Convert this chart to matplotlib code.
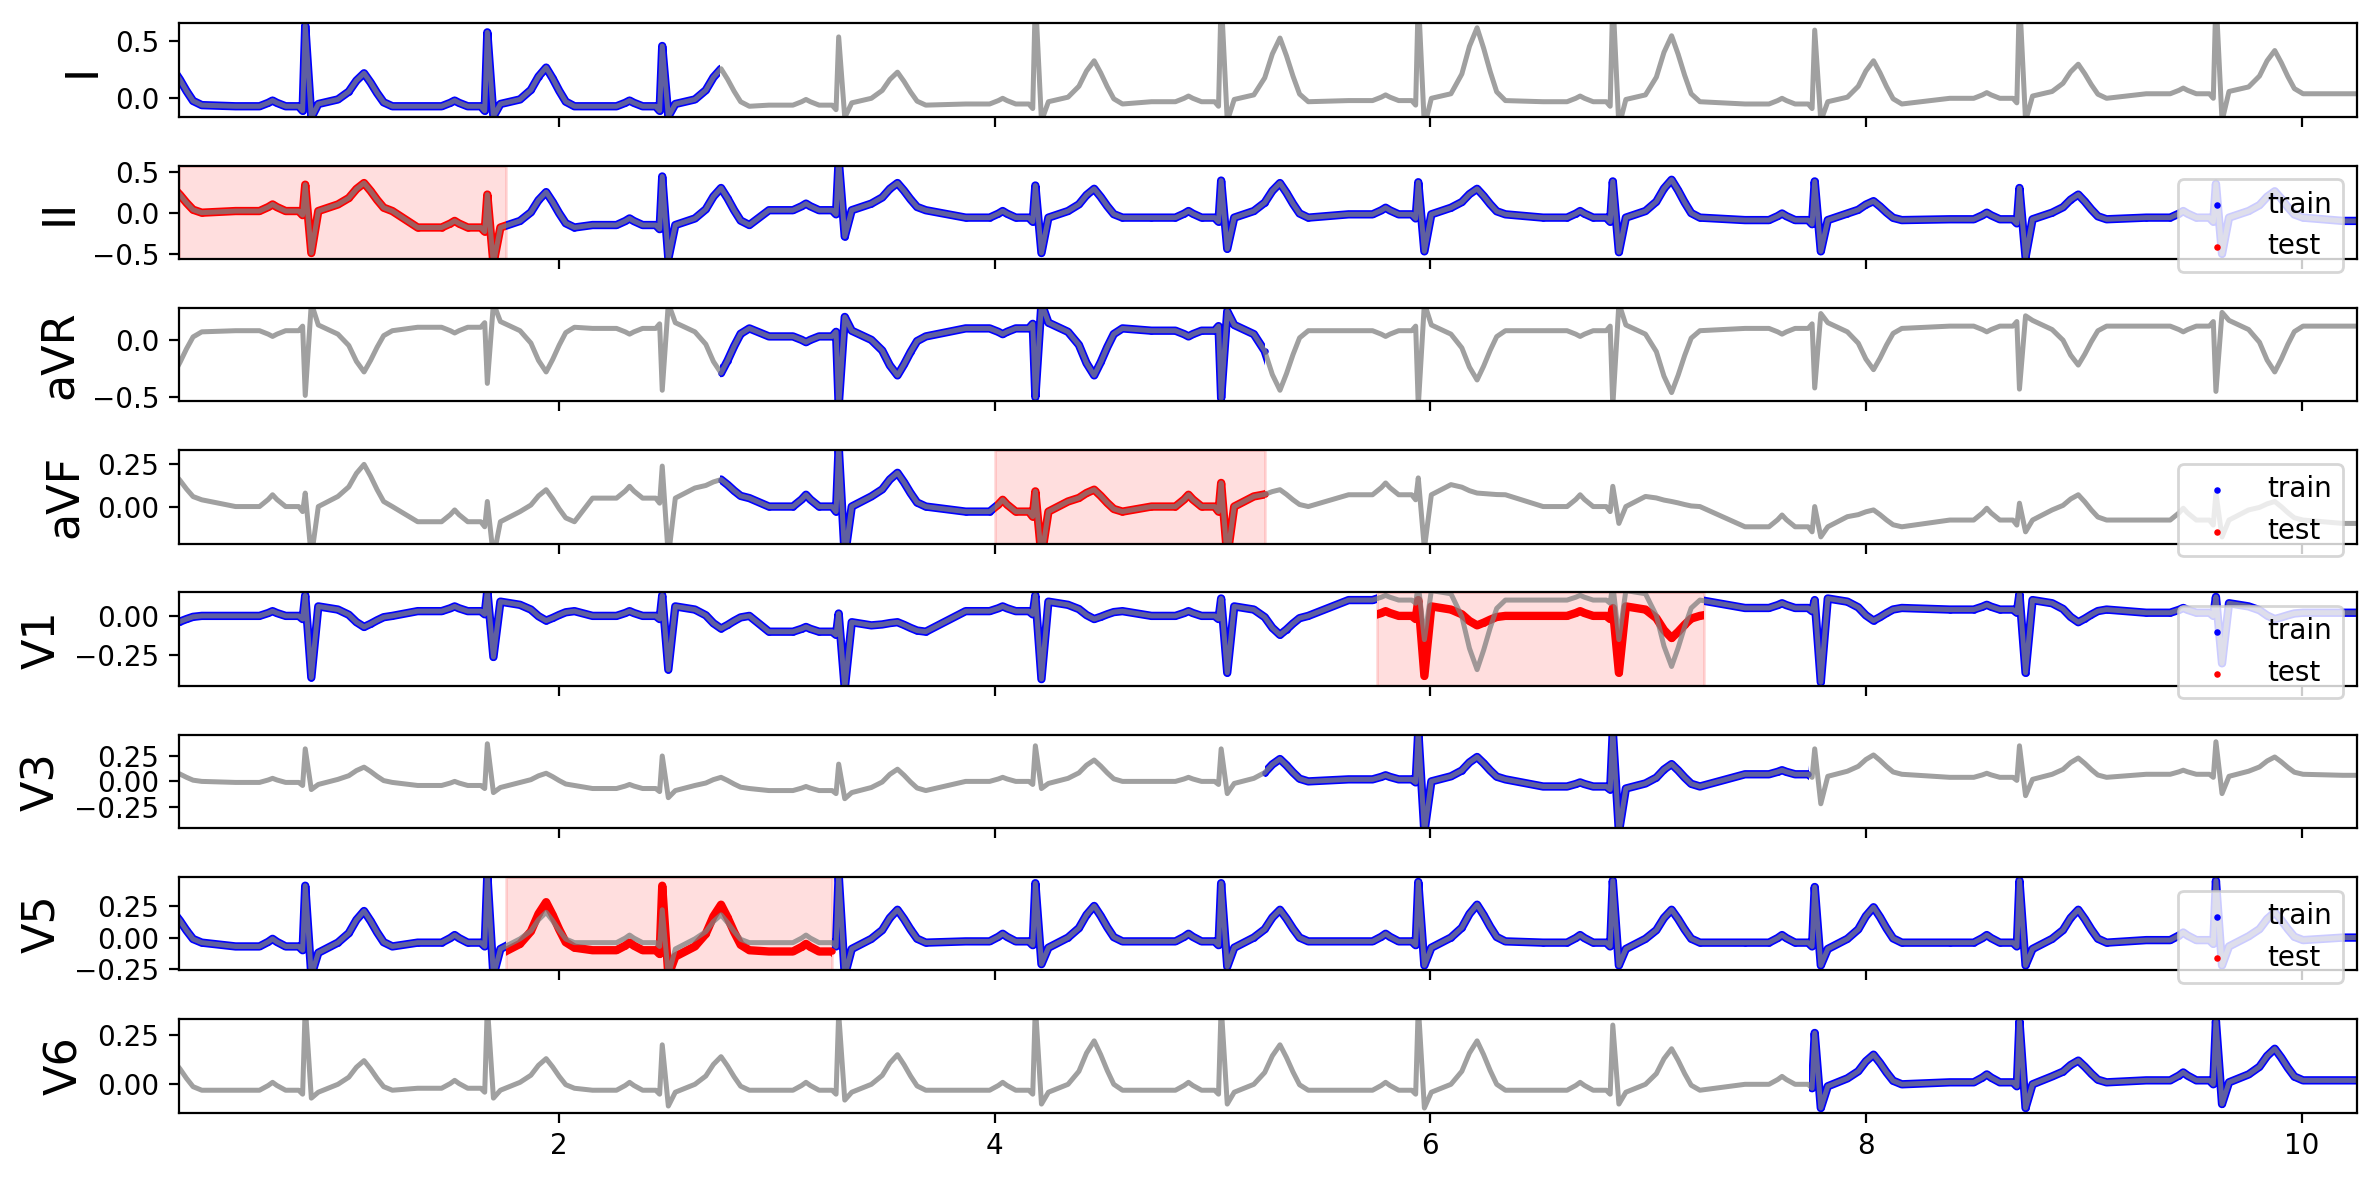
import matplotlib
matplotlib.use('Agg')
import matplotlib.pyplot as plt
from matplotlib.patches import Rectangle

LEADS = ['I', 'II', 'aVR', 'aVF', 'V1', 'V3', 'V5', 'V6']

# R-peak times (s), first and last are the beats just outside the strip
R_TIMES = [-0.04, 0.835, 1.671, 2.474, 3.284, 4.187, 5.04, 5.945, 6.838, 7.765, 8.705, 9.607, 10.51]
# knot offsets around each R peak (s)
OFFSETS = [-0.32, -0.21, -0.17, -0.15, -0.13, -0.09, -0.03, -0.012, 0.0, 0.028, 0.06,
           0.15, 0.20, 0.235, 0.27, 0.30, 0.33, 0.36, 0.40]
# how far each T-wave knot sits between ST level (0) and T peak (1)
T_SHAPE = [0.3, 0.72, 1.0, 0.72, 0.4, 0.12]

# per lead P / Q / J / ST levels relative to baseline
P_AMP = [0.05, 0.08, -0.05, 0.07, 0.03, 0.04, 0.06, 0.04]
Q_AMP = [-0.04, -0.05, 0.04, -0.03, -0.02, -0.03, -0.03, -0.02]
J_AMP = [0.02, 0.0, 0.05, 0.0, 0.06, -0.02, -0.05, -0.01]
ST_AMP = [0.06, 0.08, -0.03, 0.06, 0.04, 0.03, 0.03, 0.03]

# per beat baseline, R, S and T values
I_BASE = [-0.06, -0.07, -0.07, -0.07, -0.06, -0.05, -0.03, -0.02, -0.03, -0.05, 0.0, 0.04, 0.04]
I_R = [0.8, 0.64, 0.58, 0.46, 0.54, 0.9, 0.9, 0.9, 0.9, 0.6, 0.9, 0.9, 0.8]
I_S = [-0.18, -0.17, -0.16, -0.16, -0.17, -0.2, -0.2, -0.25, -0.25, -0.2, -0.2, -0.2, -0.2]
I_T = [0.25, 0.22, 0.27, 0.26, 0.23, 0.33, 0.53, 0.62, 0.55, 0.33, 0.30, 0.42, 0.3]

II_BASE = [0.0, 0.02, -0.18, -0.15, 0.03, -0.06, -0.06, -0.02, -0.06, -0.09, -0.08, -0.06, -0.1]
II_R = [0.4, 0.34, 0.22, 0.44, 0.65, 0.33, 0.39, 0.37, 0.38, 0.38, 0.30, 0.35, 0.35]
II_S = [-0.5, -0.49, -0.62, -0.56, -0.29, -0.49, -0.44, -0.47, -0.48, -0.47, -0.54, -0.5, -0.5]
II_T = [0.3, 0.36, 0.25, 0.30, 0.36, 0.29, 0.36, 0.29, 0.40, 0.14, 0.22, 0.26, 0.2]

AVR_BASE = [0.07, 0.08, 0.11, 0.1, 0.03, 0.1, 0.08, 0.08, 0.08, 0.1, 0.12, 0.12, 0.12]
AVR_R = [-0.45, -0.485, -0.38, -0.44, -0.58, -0.5, -0.51, -0.58, -0.58, -0.42, -0.43, -0.45, -0.45]
AVR_S = [0.3, 0.32, 0.32, 0.32, 0.2, 0.32, 0.25, 0.32, 0.32, 0.23, 0.21, 0.24, 0.24]
AVR_T = [-0.3, -0.28, -0.28, -0.29, -0.31, -0.31, -0.44, -0.35, -0.46, -0.26, -0.22, -0.28, -0.25]

AVF_BASE = [0.04, 0.0, -0.09, 0.05, 0.0, -0.03, 0.0, 0.07, 0.0, -0.12, -0.08, -0.08, -0.1]
AVF_R = [0.1, 0.08, 0.03, 0.24, 0.36, 0.09, 0.14, 0.17, 0.12, 0.0, 0.02, 0.08, 0.0]
AVF_S = [-0.3, -0.3, -0.3, -0.3, -0.3, -0.3, -0.3, -0.25, -0.1, -0.18, -0.15, -0.18, -0.15]
AVF_T = [0.2, 0.25, 0.1, 0.16, 0.2, 0.1, 0.1, 0.08, 0.03, -0.02, 0.07, 0.03, 0.0]

V1_BASE = [0.0, 0.0, 0.03, 0.0, -0.1, 0.03, 0.0, 0.1, 0.1, 0.05, 0.04, 0.02, 0.02]
V1_R = [0.13, 0.13, 0.16, 0.13, 0.015, 0.13, 0.11, 0.2, 0.2, 0.1, 0.14, 0.12, 0.1]
V1_S = [-0.35, -0.39, -0.26, -0.34, -0.46, -0.4, -0.36, -0.15, -0.15, -0.42, -0.36, -0.3, -0.3]
V1_T = [-0.05, -0.07, -0.03, -0.08, -0.04, -0.02, -0.12, -0.34, -0.32, -0.03, -0.04, -0.02, -0.03]

V3_BASE = [0.0, -0.01, -0.04, -0.07, -0.09, 0.0, 0.0, 0.02, -0.05, 0.07, 0.04, 0.07, 0.06]
V3_R = [0.3, 0.32, 0.37, 0.25, 0.17, 0.35, 0.32, 0.5, 0.5, 0.32, 0.35, 0.39, 0.35]
V3_S = [-0.1, -0.08, -0.11, -0.16, -0.17, -0.07, -0.12, -0.5, -0.5, -0.22, -0.14, -0.12, -0.12]
V3_T = [0.1, 0.14, 0.08, 0.04, 0.12, 0.21, 0.22, 0.24, 0.17, 0.26, 0.23, 0.24, 0.2]

V5_BASE = [-0.04, -0.07, -0.04, -0.04, -0.04, -0.03, -0.03, -0.03, -0.04, -0.04, -0.04, -0.02, 0.0]
V5_R = [0.4, 0.41, 0.5, 0.22, 0.5, 0.43, 0.43, 0.44, 0.45, 0.4, 0.45, 0.45, 0.4]
V5_S = [-0.3, -0.3, -0.3, -0.3, -0.3, -0.21, -0.23, -0.22, -0.22, -0.22, -0.22, -0.22, -0.22]
V5_T = [0.2, 0.21, 0.2, 0.18, 0.22, 0.25, 0.22, 0.26, 0.22, 0.24, 0.22, 0.2, 0.2]

V6_BASE = [-0.03, -0.03, -0.02, -0.03, -0.03, -0.03, -0.03, -0.03, -0.03, 0.0, 0.01, 0.02, 0.02]
V6_R = [0.3, 0.4, 0.4, 0.2, 0.36, 0.4, 0.4, 0.4, 0.3, 0.26, 0.32, 0.32, 0.3]
V6_S = [-0.08, -0.07, -0.07, -0.11, -0.08, -0.1, -0.1, -0.12, -0.1, -0.12, -0.12, -0.1, -0.1]
V6_T = [0.12, 0.12, 0.13, 0.14, 0.15, 0.22, 0.2, 0.22, 0.18, 0.15, 0.12, 0.18, 0.15]

# model predictions (test) where they differ from the recorded signal
V1_PRED_BASE = [0.0, 0.0, 0.03, 0.0, -0.1, 0.03, 0.0, 0.0, 0.0, 0.05, 0.04, 0.02, 0.02]
V1_PRED_R = [0.13, 0.13, 0.16, 0.13, 0.015, 0.13, 0.11, 0.1, 0.05, 0.1, 0.14, 0.12, 0.1]
V1_PRED_S = [-0.35, -0.39, -0.26, -0.34, -0.46, -0.4, -0.36, -0.38, -0.36, -0.42, -0.36, -0.3, -0.3]
V1_PRED_T = [-0.05, -0.07, -0.03, -0.08, -0.04, -0.02, -0.12, -0.06, -0.14, -0.03, -0.04, -0.02, -0.03]

V5_PRED_BASE = [-0.04, -0.07, -0.08, -0.1, -0.11, -0.03, -0.03, -0.03, -0.04, -0.04, -0.04, -0.02, 0.0]
V5_PRED_R = [0.4, 0.41, 0.5, 0.41, 0.5, 0.43, 0.43, 0.44, 0.45, 0.4, 0.45, 0.45, 0.4]
V5_PRED_T = [0.2, 0.21, 0.28, 0.26, 0.22, 0.25, 0.22, 0.26, 0.22, 0.24, 0.22, 0.2, 0.2]

YLIMS = [(-0.163, 0.66), (-0.564, 0.573), (-0.537, 0.28), (-0.22, 0.335),
         (-0.443, 0.149), (-0.46, 0.46), (-0.26, 0.48), (-0.144, 0.33)]
YTICKS = [[0.0, 0.5], [-0.5, 0.0, 0.5], [-0.5, 0.0], [0.0, 0.25],
          [-0.25, 0.0], [-0.25, 0.0, 0.25], [-0.25, 0.0, 0.25], [0.0, 0.25]]
XLIM = (0.255, 10.253)
XTICKS = [2, 4, 6, 8, 10]

TRAIN_WIN = {'I': [(0.255, 2.74)], 'II': [(1.755, 10.253)], 'aVR': [(2.74, 5.24)],
             'aVF': [(2.74, 4.0)], 'V1': [(0.255, 5.755), (7.257, 10.253)],
             'V3': [(5.24, 7.74)], 'V5': [(0.255, 1.755), (3.255, 10.253)],
             'V6': [(7.74, 10.253)]}
TEST_WIN = {'II': (0.255, 1.755), 'aVF': (4.0, 5.24), 'V1': (5.755, 7.257), 'V5': (1.755, 3.255)}

SIGNALS = {'I': (I_BASE, I_R, I_S, I_T), 'II': (II_BASE, II_R, II_S, II_T),
           'aVR': (AVR_BASE, AVR_R, AVR_S, AVR_T), 'aVF': (AVF_BASE, AVF_R, AVF_S, AVF_T),
           'V1': (V1_BASE, V1_R, V1_S, V1_T), 'V3': (V3_BASE, V3_R, V3_S, V3_T),
           'V5': (V5_BASE, V5_R, V5_S, V5_T), 'V6': (V6_BASE, V6_R, V6_S, V6_T)}
PREDS = {'V1': (V1_PRED_BASE, V1_PRED_R, V1_PRED_S, V1_PRED_T),
         'V5': (V5_PRED_BASE, V5_PRED_R, V5_S, V5_PRED_T)}


def knots(base, r, s, t, p, q, j, st):
    xs, ys = [], []
    for k, rt in enumerate(R_TIMES):
        b = base[k]
        lo = b + st
        # T wave: rises from the ST level, falls back to baseline
        tw = [lo + w * (t[k] - lo) for w in T_SHAPE[:3]]
        tw += [b + w * (t[k] - b) for w in T_SHAPE[3:]]
        vals = [b, b, b + 0.6 * p, b + p, b + 0.6 * p, b, b, b + q, r[k], s[k], b + j, lo] + tw + [b]
        xs += [rt + o for o in OFFSETS]
        ys += vals
    return xs, ys


def band(ax, xs, ys, lo, hi, color, ylim):
    # thick line standing in for the dense sample dots, clipped to the window
    line, = ax.plot(xs, ys, color=color, lw=3.0, solid_joinstyle='round', zorder=1)
    rect = Rectangle((lo, ylim[0]), hi - lo, ylim[1] - ylim[0], transform=ax.transData)
    line.set_clip_path(rect)


def dots(ax, xs, ys, wins, color, label):
    px = [x for x, y in zip(xs, ys) if any(a <= x <= b for a, b in wins)]
    py = [y for x, y in zip(xs, ys) if any(a <= x <= b for a, b in wins)]
    ax.scatter(px, py, s=5.5, c=color, label=label, zorder=1.5, linewidths=0)


fig, axes = plt.subplots(len(LEADS), 1, sharex=True, figsize=(2379 / 200, 1180 / 200), dpi=200)
fig.subplots_adjust(left=0.0752, right=0.9906, top=0.9803, bottom=0.0570, hspace=0.52)

for i, (ax, lead) in enumerate(zip(axes, LEADS)):
    ylim = YLIMS[i]
    xs, ys = knots(*SIGNALS[lead], P_AMP[i], Q_AMP[i], J_AMP[i], ST_AMP[i])

    for lo, hi in TRAIN_WIN[lead]:
        band(ax, xs, ys, lo, hi, 'blue', ylim)
    dots(ax, xs, ys, TRAIN_WIN[lead], 'blue', 'train')

    if lead in TEST_WIN:
        lo, hi = TEST_WIN[lead]
        ax.axvspan(lo, hi, color='red', alpha=0.13, zorder=0.5)
        if lead in PREDS:
            pxs, pys = knots(*PREDS[lead], P_AMP[i], Q_AMP[i], J_AMP[i], ST_AMP[i])
        else:
            pxs, pys = xs, ys
        band(ax, pxs, pys, lo, hi, 'red', ylim)
        dots(ax, pxs, pys, [(lo, hi)], 'red', 'test')
        ax.legend(loc='upper right')

    ax.plot(xs, ys, color='grey', alpha=0.75, lw=1.8, zorder=2)

    ax.set_xlim(*XLIM)
    ax.set_ylim(*ylim)
    ax.set_yticks(YTICKS[i])
    ax.set_ylabel(lead, fontsize=16)

axes[-1].set_xticks(XTICKS)

fig.savefig('out.png', dpi=200)
